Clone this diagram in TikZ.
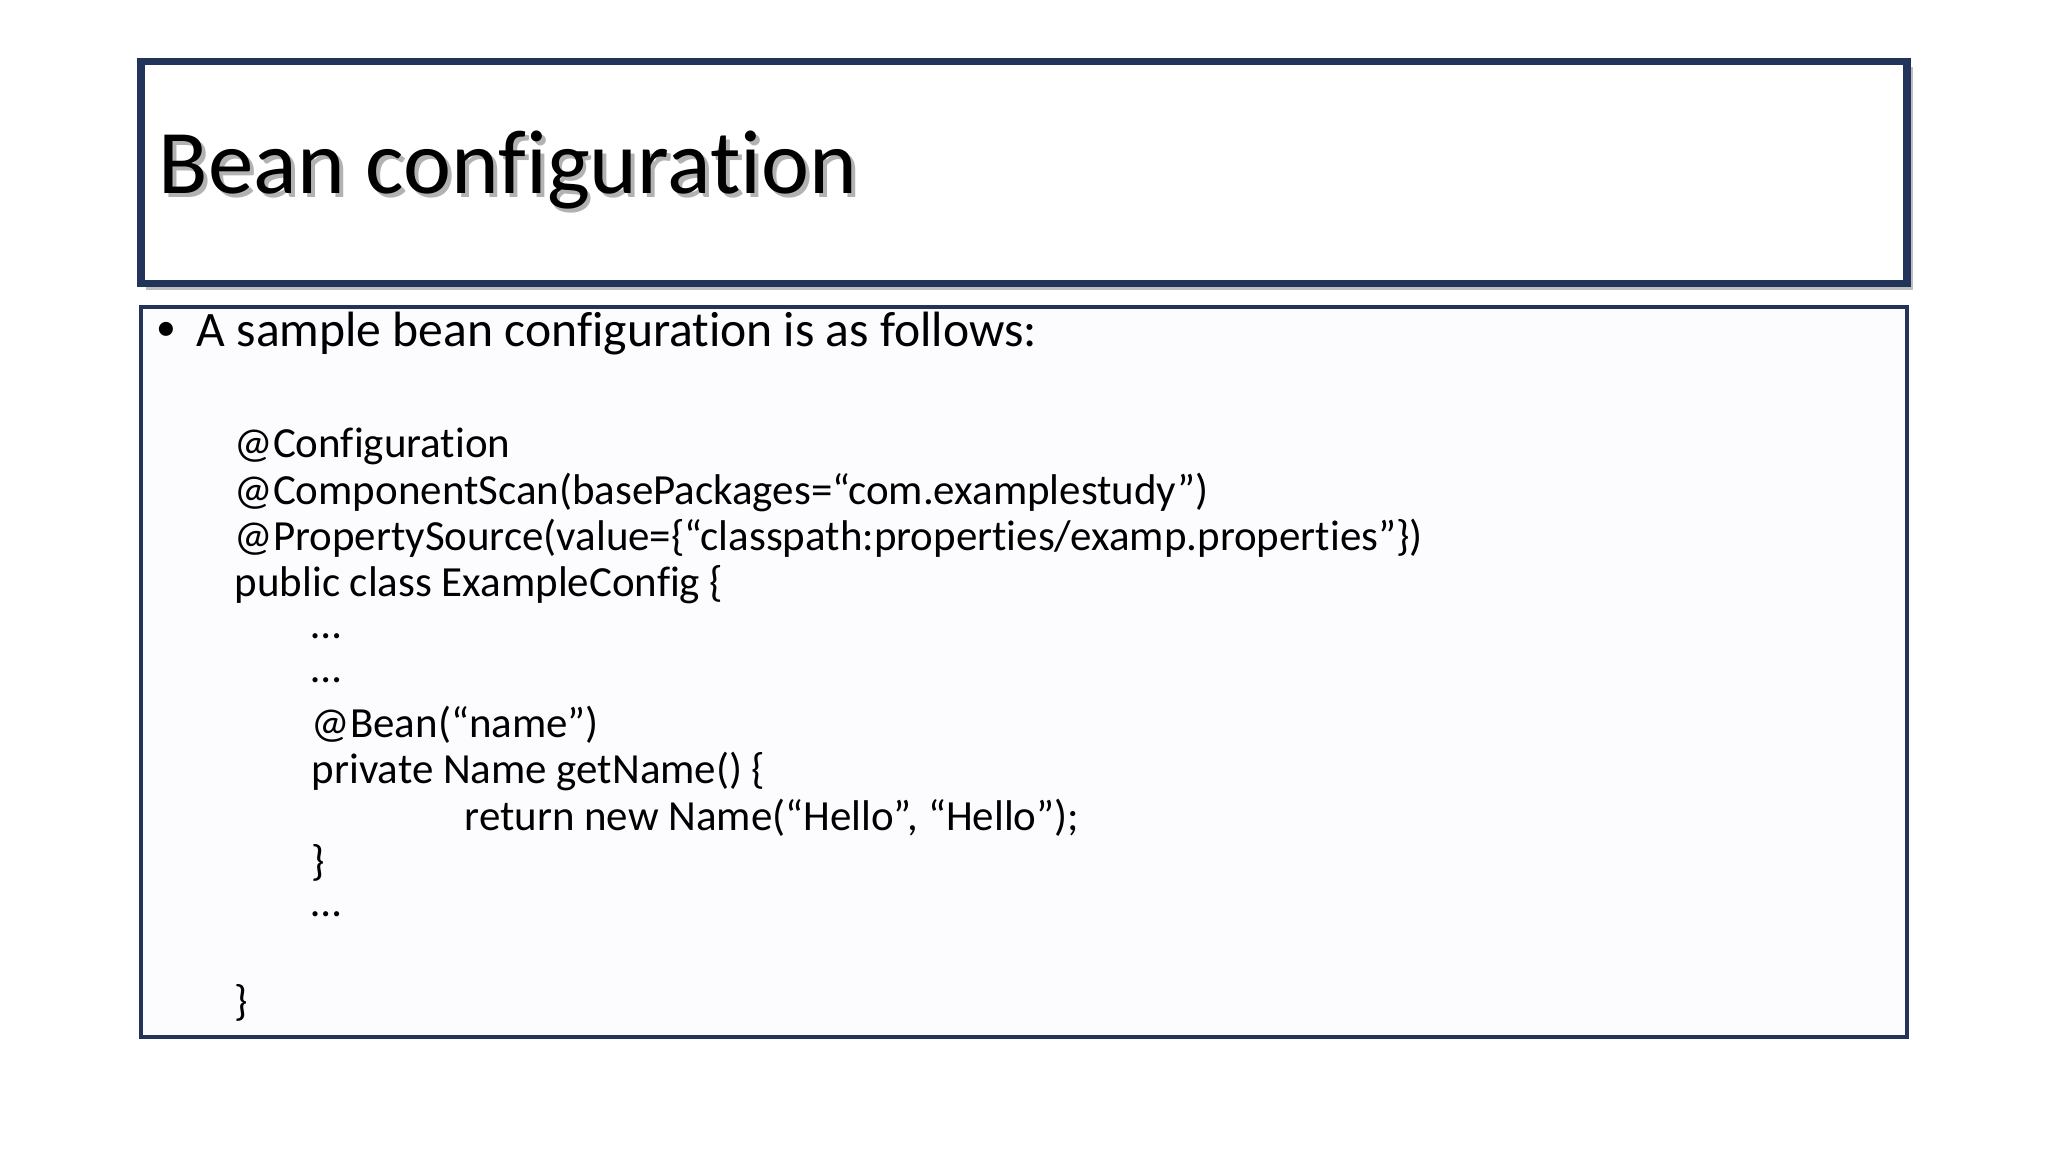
\documentclass[tikz,border=0pt]{standalone}
\usepackage{fontspec}
\setmainfont[RawFeature=-liga]{Carlito}
\definecolor{navy}{RGB}{35,52,90}
\begin{document}
\begin{tikzpicture}[x=0.01cm,y=-0.01cm,
  code/.style={anchor=west,inner sep=0pt,font=\fontsize{9.35pt}{11pt}\selectfont},
  frame/.style={draw=navy}]
\useasboundingbox (0,0) rectangle (1568,882);
\fill[white] (0,0) rectangle (1568,882);
\fill[black!25] (112,51) rectangle (1465,222);
\draw[frame,line width=1.6pt,fill=white] (108,47) rectangle (1460,217);
\node[anchor=west,inner sep=0pt,text=black!30,font=\fontsize{19.8pt}{24pt}\selectfont] (tsh) at (124,133) {Bean configuration};
\node[anchor=west,inner sep=0pt,font=\fontsize{19.8pt}{24pt}\selectfont] (title) at (121,130) {Bean configuration};
\draw[frame,line width=0.8pt,fill=blue!1!white] (108,235) rectangle (1460,794);
\node[code,font=\fontsize{10.8pt}{12pt}\selectfont] (b) at (119,255) {\raisebox{0.1ex}{\scalebox{0.8}{•}}};
\node[code,font=\fontsize{10.8pt}{12pt}\selectfont] (l0) at (150,255) {A sample bean configuration is as follows:};
\node[code] (l1) at (179,342) {@Configuration};
\node[code] (l2) at (179,377) {@ComponentScan(basePackages=“com.examplestudy”)};
\node[code] (l3) at (179,412) {@PropertySource(value=\{“classpath:properties/examp.properties”\})};
\node[code] (l4) at (179,448) {public class ExampleConfig \{};
\node[code] (l5) at (238,487) {…};
\node[code] (l6) at (238,521) {…};
\node[code] (l7) at (238,555) {@Bean(“name”)};
\node[code] (l8) at (238,591) {private Name getName() \{};
\node[code] (l9) at (355,626) {return new Name(“Hello”, “Hello”);};
\node[code] (l10) at (238,661) {\}};
\node[code] (l11) at (238,700) {…};
\node[code] (l12) at (179,768) {\}};
\end{tikzpicture}
\end{document}
